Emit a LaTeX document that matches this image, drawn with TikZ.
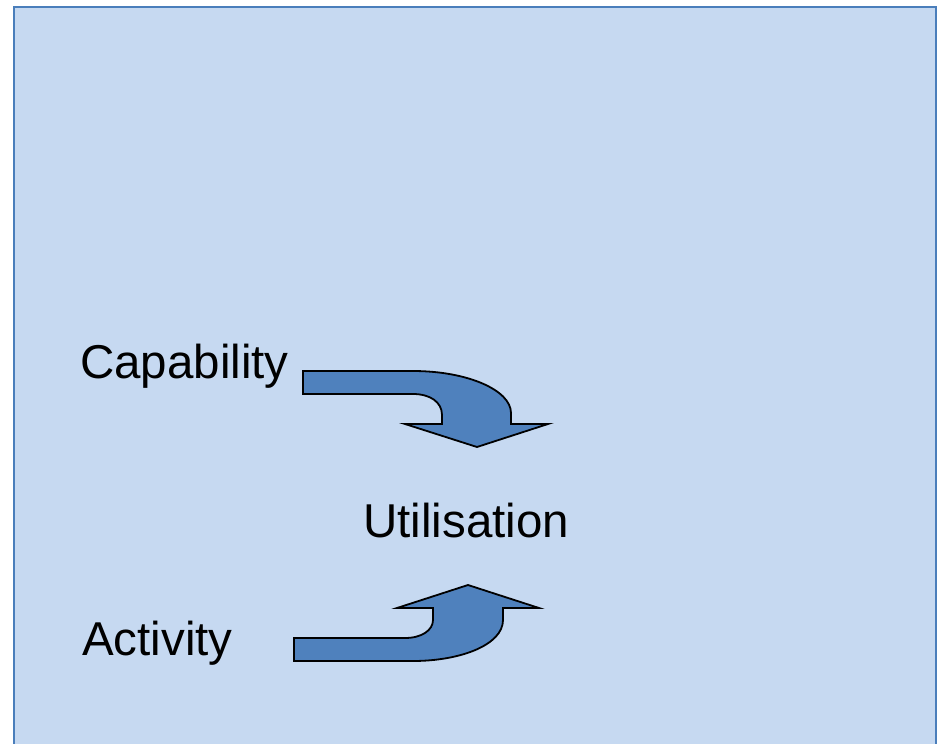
\documentclass[tikz,border=0pt]{standalone}
\usepackage{fontspec}
\setmainfont{Liberation Sans}
\definecolor{bgfill}{HTML}{C6D9F1}
\definecolor{bgline}{HTML}{4A7EBB}
\definecolor{arrowfill}{HTML}{4F81BD}
\begin{document}
\begin{tikzpicture}[x=1pt,y=-1pt,
  lbl/.style={anchor=base west,inner sep=0pt,font=\fontsize{47.5}{52}\selectfont},
  bigarrow/.style={fill=arrowfill,draw=black,line width=1.8pt,line join=miter}]
\useasboundingbox (0,0) rectangle (937,744);
\clip (0,0) rectangle (937,744);
\fill[bgfill] (14,7) rectangle (936,760);
\draw[bgline,line width=2pt] (14,760) -- (14,7) -- (936,7) -- (936,760);
\node[lbl] (cap) at (80,378) {Capability};
\node[lbl] (util) at (363,537) {Utilisation};
\node[lbl] (act) at (82,655) {Activity};
% top curved arrow
\draw[bigarrow] (303,371) -- (413,371)
  .. controls (467,371) and (511,390) .. (511,413) -- (511,424)
  -- (548,424) -- (477,447) -- (405,424) -- (442,424) -- (442,415)
  .. controls (442,402) and (430,394) .. (413,394) -- (303,394) -- cycle;
% bottom curved arrow
\draw[bigarrow] (294,638) -- (405,638)
  .. controls (422,638) and (433,630) .. (433,620) -- (433,608)
  -- (397,608) -- (468,585) -- (539,608) -- (503,608) -- (503,620)
  .. controls (503,645) and (460,661) .. (413,661) -- (294,661) -- cycle;
\end{tikzpicture}
\end{document}
